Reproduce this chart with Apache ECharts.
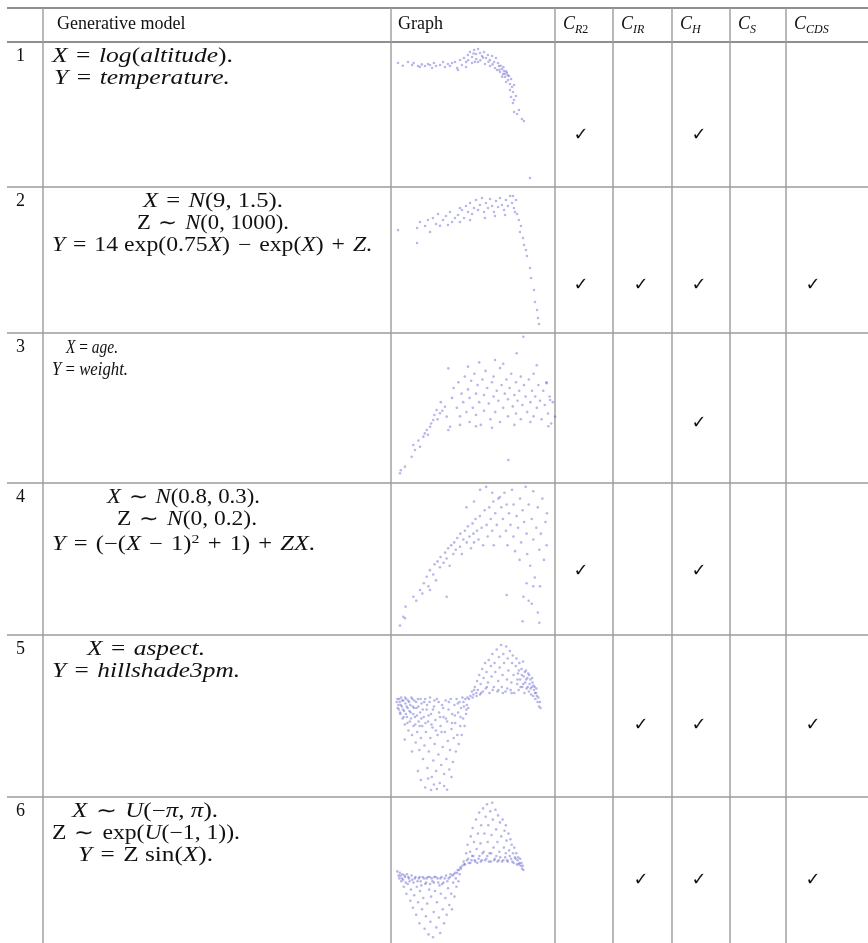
<!DOCTYPE html>
<html><head><meta charset="utf-8">
<script src="https://cdn.jsdelivr.net/npm/echarts@6/dist/echarts.min.js"></script>
<style>html,body{margin:0;padding:0;background:#fff}#c{width:868px;height:943px}</style>
</head><body><div id="c"></div>
<script>
// ---------- data (relative units 0..100 inside each plot) ----------
const graph1 = [[1.5,86],[5,84],[8.8,86.8],[11.8,84.6],[13,86],[16.2,83.8],[17.6,83.1],[19,85],[21.3,83.8],[23.5,85.3],[25,84.6],[26.5,82.4],[27.9,86],[29.4,83.8],[32.4,84.6],[34.6,86.8],[36,83.1],[38.2,85.3],[39.7,83.8],[41.2,86],[43.4,86.8],[44.9,82.4],[45.6,80.9],[47.1,88.2],[48.5,84.6],[50,89.7],[51.5,86.8],[51.5,83.1],[52.9,91.9],[53,88],[54.4,94.1],[55.9,90.4],[55.9,86],[57,93],[57.4,95.6],[58,87],[58.8,92.6],[59,89],[60.3,96.3],[60.3,86.8],[61.8,93.4],[62,88],[63.2,91.2],[64,90],[64.7,94.1],[65.4,85.3],[66.2,89.7],[67.6,91.9],[68,87],[69.1,88.2],[69.1,83.8],[70.6,91.2],[71,85],[72.1,86.8],[72.8,82.4],[73.5,89.7],[74.3,80.9],[75,86],[75.7,83.8],[76,81],[76.5,79.4],[77,84],[77.9,81.6],[78,76],[78.7,77.9],[79,83],[79.4,80.1],[80,78],[80.1,75.7],[81,80],[81.6,78.7],[82,77],[82.4,73.5],[80.9,72.1],[83.1,76.5],[83.8,70.6],[84.6,74.3],[85.3,68.4],[83.8,66.2],[86.8,69.9],[86,64.7],[84.6,61],[86.8,58.8],[88.2,61.8],[86,56.6],[86.8,50],[89,48.5],[90.4,51.5],[92.6,44.9],[94.1,43.4],[98.5,1.5]];
const graph2 = [[1.4,72],[14.4,62.5],[14.4,73.5],[16.4,77.9],[19.9,75],[21.9,79.4],[23.3,70.6],[25.3,80.9],[27.4,76.5],[28.8,83.8],[30.1,75.1],[32.2,79.4],[34.2,82.4],[35.6,75.7],[37,85.3],[38.4,77.9],[40.4,80.9],[42.5,83.1],[43.8,77.9],[43.8,88.2],[45.2,86.8],[46.6,80.9],[47.9,89.7],[49.3,85.3],[50.7,91.9],[50.7,79.4],[52.1,83.8],[53.4,88.2],[54.8,94.1],[56.2,86.8],[57.5,90.4],[58.9,95.6],[60.3,85.3],[60.9,80.9],[61.6,91.9],[63,88.2],[64.4,94.9],[65.8,89.7],[67.1,85.3],[67.8,82.4],[68.5,93.4],[69.9,89],[71.2,95.6],[72.6,90.4],[74,86.8],[74.7,83.1],[75.3,94.1],[76.7,89.7],[78.1,97.1],[79.5,91.9],[80.1,97.1],[80.8,88.2],[81.5,85.3],[82.2,94.1],[82.9,83.8],[84.2,79.4],[85.6,75],[84.9,70.6],[87,66.2],[87.7,61],[89,57.4],[89.7,52.9],[91.8,44.1],[92.5,36.8],[94.5,27.9],[95.2,19.1],[96.6,13.2],[97.3,7.4],[97.9,2.9]];
const graph3 = [[2.5,1.9],[3,4],[5.6,6.6],[9.8,13.6],[11.9,18.3],[15,20.6],[10.8,21.8],[14,25],[17.1,27.7],[18,30],[20,29],[19.2,32.4],[21.3,34.7],[22,37],[23.3,39.4],[24,43],[25.4,46.5],[26,40],[27.5,44.2],[29,46],[28,52],[30.6,48.8],[31.7,41.8],[33.8,34.7],[32.7,32.4],[35,55],[36,62],[38,48],[39,66],[40,42],[40,36],[41,58],[42,52],[43,70],[44,45],[45,61],[45,77],[46,38],[46,55],[47,67],[48,48],[49,72],[50,58],[50,43],[50,35],[51,64],[52,52],[52,80],[53,36],[54,68],[55,57],[55,46],[56,74],[57,62],[58,51],[59,40],[60,66],[60,34],[61,56],[61,70],[61.9,81.7],[62,45],[63,60],[64,53],[65,76],[65,38],[66,64],[67,48],[67,79],[68,58],[69,68],[70,42],[70,54],[70.2,11.3],[71,62],[72,72],[73,49],[74,57],[74,36],[75,44],[75,66],[75.4,86.4],[76,53],[77,60],[78,70],[78,40],[79,50],[79.6,98.1],[80,64],[81,56],[82,45],[83,68],[84,52],[84,38],[85,60],[86,42],[86,72],[87,56],[88,48],[88,78],[89,64],[90,53],[91,40],[92,60],[93,50],[94,66],[94.2,65.3],[95,44],[95.2,35],[96,56],[96.3,53.5],[97,37],[98,52],[99.4,41.8],[32.7,75.8]];
const graph4 = [[1.3,3],[3.5,9.1],[4.6,8],[5,16],[10.1,22.8],[12,20],[14.5,27.4],[16,25],[17,32],[18.9,36.5],[20,30],[21,41],[21,27.4],[23.2,38],[24,45],[25,34],[26,47],[27.6,43],[28,50],[30,46],[31,53],[32,49],[32,22.8],[33,56],[34,44],[35,58],[36.4,52],[37,60],[38,55],[39,63],[40.8,57],[41,66],[42,52],[43,62],[44,68],[45,84],[45.2,60],[46,71],[47,64],[48,56],[49,73],[49.6,66],[50,60],[50,88],[51,76],[52,68],[53,62],[53.9,78],[54,96],[55,70],[56,58],[57,82],[58,98],[58.3,72],[59,64],[60,84],[61,76],[62,68],[62,94],[62.7,88],[63,58],[64,80],[65,72],[66,90],[67,91],[67.1,64],[68,84],[69,76],[70,94],[71,68],[71.5,86],[71.5,24],[72,58],[73,80],[74,72],[75,96],[75.9,64],[76,86],[77,54],[78,78],[79,70],[80,48],[80.3,90],[81,60],[82,82],[82.5,22.8],[83,74],[84,98],[84.6,66],[84.6,32],[85,52],[86,86],[86,20],[87,44],[88,76],[88,18],[89,62],[89,95],[89,30],[90,36],[91,70],[92,84],[92,12],[93,55],[93,5],[93.4,30],[94,66],[95,90],[96,48],[97,74],[97.8,58],[98,80],[82,6]];
const graph5 = [[1,62],[1.6,58],[2,55],[2.5,60],[3,52],[3.5,63],[4,57],[4.5,49],[5,61],[5.5,54],[6,45],[6,35],[6.5,59],[7,62],[7.5,50],[8,56],[8.5,41],[9,60],[9.5,47],[10,53],[10.5,63],[11,38],[11,27],[11.5,57],[12,44],[12.5,61],[13,50],[13.5,33],[14,56],[14.5,40],[15,62],[15,14],[15.5,47],[16,28],[16.5,53],[17,36],[17,8],[17.5,59],[18,44],[18.5,22],[19,50],[19.5,31],[20,62],[20,3],[20.5,40],[21,55],[21.5,16],[22,47],[22,9],[22.5,27],[23,60],[23.5,36],[24,52],[24,1.3],[24.5,10],[25,43],[25.5,21],[26,57],[26,5],[26.5,32],[27,48],[27.5,14],[28,62],[28,2],[28.5,38],[29,25],[29.5,53],[30,6],[30.5,44],[31,18],[31.5,58],[32,30],[32.5,50],[33,12],[33,4],[33.5,40],[34,61],[34.5,22],[35,47],[35,1.5],[35.5,34],[36,55],[36.5,15],[37,28],[37.5,62],[38,42],[38,10],[38.5,52],[39,20],[39.5,36],[40,58],[40.5,46],[41,27],[41.5,62],[42,38],[42.5,53],[43,32],[43.5,60],[44,44],[44.5,56],[45,38],[45.5,63],[46,49],[46.5,57],[47,44],[47.5,62],[48,52],[48.5,58],[49,63],[49.5,56],[50,62],[51,64],[52,67],[53,65],[54,70],[55,66],[55.5,74],[56,68],[57,78],[57.5,65],[58,72],[59,82],[59.5,67],[60,76],[61,86],[61.5,69],[62,80],[63,73],[63.5,88],[64,66],[65,84],[65.5,77],[66,92],[67,70],[67.5,86],[68,80],[69,95],[69.5,67],[70,74],[70.5,90],[71,83],[72,98],[72.5,70],[73,78],[73.5,92],[74,86],[75,67],[75.5,97],[76,75],[76.5,89],[77,81],[78,94],[78.5,68],[79,73],[79.5,86],[80,91],[80.5,78],[81,66],[82,84],[82.5,89],[83,72],[83.5,79],[84,68],[84.5,86],[85,75],[86,82],[86.5,70],[87,87],[87.5,77],[88,66],[88.5,73],[89,81],[89.5,69],[90,76],[90.5,79],[91,67],[91.5,72],[92,75],[92.5,65],[93,70],[93.5,73],[94,64],[94.5,68],[95,70],[95.5,62],[96,66],[96.5,64],[97,60],[97.5,63],[98,57],[98.6,60],[99,56],
 [0.5,60],[1.2,56],[2.2,62],[2.8,53],[3.3,58],[4.2,61],[4.8,55],[5.2,50],[6.2,63],[6.8,52],[7.3,57],[7.8,46],[8.3,61],[9.2,54],[9.8,58],[10.3,49],[11.2,62],[11.8,52],[12.3,56],[13.2,45],[13.8,60],[14.3,51],[15.3,57],[16.2,44],[16.8,62],[17.3,49],[18.3,55],[19.3,60],[20.2,46],[21.3,58],[22.3,51],[23.3,63],[24.3,45],[25.3,55],[26.3,61],[27.3,41],[29.2,60],[30.2,50],[31.2,40],[32.3,56],[34.2,49],[36.2,60],[38.3,46],[40.3,51],[42.3,59],[44.2,50],[46.2,60],[48.2,55],
 [83.2,75],[84.2,81],[85.3,70],[86.2,78],[87.2,72],[88.2,80],[89.2,75],[90.2,70],[91.2,78],[92.2,69],[93.2,76],[94.2,71],[95.2,66],[96.2,69],[70.2,68],[73.2,66],[76.2,69],[79.2,66],[62.3,70],[66.2,68],[58.3,66],[55.2,64],[52.5,63],[53.5,68]];
const graph6 = [[1,49],[2,46],[3,48],[4,42],[5,47],[6,38],[7,45],[8,33],[8.5,47],[9,40],[10,44],[11,28],[11.5,36],[12,46],[13,23],[13.5,41],[14,32],[15,45],[15.5,18],[16,38],[17,27],[17.5,44],[18,12],[18.5,35],[19,42],[20,22],[20.5,45],[21,30],[22,8],[22.5,40],[23,17],[23.5,44],[24,26],[25,4],[25.5,36],[26,45],[26.5,13],[27,31],[28,42],[28.5,2],[29,20],[29.5,45],[30,35],[31,9],[31.5,27],[32,44],[33,16],[33.5,39],[34,5],[34.5,33],[35,45],[36,22],[36.5,41],[37,12],[38,30],[38.5,46],[39,18],[40,37],[40.5,44],[41,25],[42,47],[42.5,33],[43,22],[44,41],[44.5,47],[45,31],[46,44],[46.5,38],[47,48],[48,42],[48.5,50],[49,47],[50,51],[51,53],[52,56],[53,54],[54,62],[54.5,57],[55,68],[56,55],[57,63],[57.5,74],[58,57],[59,80],[59.5,60],[60,70],[61,56],[61.5,86],[62,65],[63,76],[63.5,58],[64,91],[65,69],[65.5,82],[66,57],[67,94],[67.5,63],[68,76],[69,88],[69.5,58],[70,97],[70.5,70],[71,82],[72,62],[72.5,92],[73,56],[73.5,75],[74,98],[74.5,86],[75,66],[76,58],[76.5,93],[77,79],[78,70],[78.5,89],[79,57],[79.5,63],[80,84],[81,74],[81.5,56],[82,86],[83,66],[83.5,78],[84,59],[84.5,82],[85,71],[86,56],[86.5,76],[87,64],[88,72],[88.5,58],[89,68],[90,62],[90.5,55],[91,66],[92,58],[92.5,62],[93,54],[94,59],[95,55],[96,53],[97,51],[98,50],
 [2.5,44],[3.5,46],[4.5,44],[5.5,43],[6.5,46],[7.5,41],[9.5,45],[10.5,42],[12.5,43],[14.5,44],[16.5,42],[18.2,45],[19.5,39],[21.5,44],[23.2,41],[24.5,45],[26.2,40],[27.5,44],[29.2,41],[30.5,45],[32.5,41],[34.2,44],[35.5,40],[37.5,44],[39.5,42],[41.5,45],[43.5,46],[45.5,48],[47.5,50],[49.5,52],
 [52.5,54],[55.5,58],[57.2,55],[58.5,60],[60.5,57],[62.5,55],[64.2,60],[65.2,56],[66.5,62],[68.5,57],[70.2,60],[71.5,56],[73.2,62],[75.5,57],[77.2,60],[78.2,56],[80.2,59],[82.5,57],[84.5,62],[85.5,57],[87.5,60],[89.5,56],[91.5,59],[93.5,57],[94.5,54],[95.5,58],[96.5,55],[97.5,53]];
const graphs = [graph1, graph2, graph3, graph4, graph5, graph6];

const rowNumbers = ['1','2','3','4','5','6'];
const headerText = ['Generative model', 'Graph'];
const criteria = [['C','R','2'],['C','IR',''],['C','H',''],['C','S',''],['C','CDS','']];
// checks per row: C_R2, C_IR, C_H, C_S, C_CDS
const checks = [[1,0,1,0,0],[1,1,1,0,1],[0,0,1,0,0],[1,0,1,0,0],[0,1,1,0,1],[0,1,1,0,1]];
const SP = '\u2004';
const formulas = [
  ['{i|X}'+SP+'='+SP+'{i|log}({i|altitude}).', '{i|Y}'+SP+'='+SP+'{i|temperature.}'],
  ['{i|X}'+SP+'='+SP+'{i|N}(9, 1.5).', 'Z'+SP+'\u223c'+SP+'{i|N}(0, 1000).', '{i|Y}'+SP+'='+SP+'14 exp(0.75{i|X})'+SP+'\u2212'+SP+'exp({i|X})'+SP+'+'+SP+'{i|Z}.'],
  ['{i|X} = {i|age.}', '{i|Y} = {i|weight.}'],
  ['{i|X}'+SP+'\u223c'+SP+'{i|N}(0.8, 0.3).', 'Z'+SP+'\u223c'+SP+'{i|N}(0, 0.2).', '{i|Y}'+SP+'='+SP+'(\u2212({i|X}'+SP+'\u2212'+SP+'1){sup|2}'+SP+'+'+SP+'1)'+SP+'+'+SP+'{i|ZX}.'],
  ['{i|X}'+SP+'='+SP+'{i|aspect.}', '{i|Y}'+SP+'='+SP+'{i|hillshade3pm.}'],
  ['{i|X}'+SP+'\u223c'+SP+'{i|U}(\u2212{i|\u03c0}, {i|\u03c0}).', 'Z'+SP+'\u223c'+SP+'exp({i|U}(\u22121, 1)).', '{i|Y}'+SP+'='+SP+'Z sin({i|X}).']
];

// ---------- layout ----------
const W = 868, H = 943;
const rowLines = [42, 187, 333, 483, 635, 797];
const colLines = [43, 391, 555, 613, 672, 730, 786];
const plotBoxes = [[396,44,136,136],[396,192,146,136],[396,334,160,142],[398,484,152,146],[396,642,146,150],[396,800,130,140]];
// left / right extents of each formula line
const formulaSpan = [
  [[52,233],[54,230]],
  [[143,283],[137,289],[52,372]],
  [[66,118],[52,128]],
  [[107,260],[117,257],[52,315]],
  [[87,205],[52,240]],
  [[72,218],[52,240],[78,213]]
];
const formulaSize = [20, 20, 18, 20, 20, 20];
const checkY = [135, 285, 423, 571, 725, 880];
const checkX = [581, 641, 699, 757, 813];
const lineGap = 22;
const FS = 18;
const SERIF = '"Liberation Serif", "Times New Roman", serif';
const FONT_R = FS + 'px ' + SERIF;
const FONT_I = 'italic ' + FS + 'px ' + SERIF;
const ctx = document.createElement('canvas').getContext('2d');
function fontsFor(size) {
  return {r: size + 'px ' + SERIF, i: 'italic ' + size + 'px ' + SERIF, sup: Math.round(size*0.65) + 'px ' + SERIF};
}
function measure(str, f) {
  let w = 0, last = 0, m;
  const re = /\{(\w+)\|([^}]*)\}/g;
  while ((m = re.exec(str))) {
    ctx.font = f.r; w += ctx.measureText(str.slice(last, m.index)).width;
    ctx.font = f[m[1]]; w += ctx.measureText(m[2]).width;
    last = re.lastIndex;
  }
  ctx.font = f.r; w += ctx.measureText(str.slice(last)).width;
  return w;
}

const g = [];
const gray = '#9b9b9b';
g.push({type:'line', shape:{x1:7,y1:8,x2:W,y2:8}, style:{stroke:'#8f8f8f', lineWidth:2}});
rowLines.forEach((y,k) => g.push({type:'line', shape:{x1:7,y1:y,x2:W,y2:y}, style:{stroke: k===0?'#8f8f8f':gray, lineWidth: k===0?2:1.4}}));
colLines.forEach(x => g.push({type:'line', shape:{x1:x,y1:8,x2:x,y2:H}, style:{stroke:gray, lineWidth:1.4}}));

g.push({type:'text', x:57, y:24, style:{text:headerText[0], font:FONT_R, fill:'#111', verticalAlign:'middle'}});
g.push({type:'text', x:398, y:24, style:{text:headerText[1], font:FONT_R, fill:'#111', verticalAlign:'middle'}});
criteria.forEach((c,k) => {
  const x = colLines[2+k] + 8;
  g.push({type:'text', x:x, y:24, style:{
    text: '{c|' + c[0] + '}{s|' + c[1] + '}' + (c[2] ? '{n|' + c[2] + '}' : ''),
    rich: {
      c: {font:FONT_I, fill:'#111', lineHeight:24},
      s: {font:'italic 12px ' + SERIF, fill:'#111', verticalAlign:'bottom', lineHeight:12},
      n: {font:'12px ' + SERIF, fill:'#111', verticalAlign:'bottom', lineHeight:12}
    }, verticalAlign:'middle'}});
});

rowNumbers.forEach((n,r) => {
  const top = rowLines[r];
  const f = fontsFor(formulaSize[r]);
  const rich = {
    i: {font: f.i, fill: '#111', lineHeight: 24},
    sup: {font: f.sup, fill: '#111', verticalAlign: 'top', lineHeight: 12}
  };
  g.push({type:'text', x:16, y:top+14, style:{text:n, font:FONT_R, fill:'#111', verticalAlign:'middle'}});
  formulas[r].forEach((s,l) => {
    const span = formulaSpan[r][l];
    const sx = (span[1] - span[0]) / measure(s, f);
    g.push({type:'text', x:span[0], y:top+15+l*lineGap + (r===3 && l===2 ? 3 : 0), scaleX:sx, style:{
      text:s, rich:rich, font:f.r, lineHeight:24, fill:'#111', align:'left', verticalAlign:'middle'}});
  });
  checks[r].forEach((v,k) => {
    if (v) g.push({type:'text', x:checkX[k], y:checkY[r], style:{text:'\u2713', font:'18px "DejaVu Sans"', fill:'#111', align:'center', verticalAlign:'middle'}});
  });
});

const grid = [], xAxis = [], yAxis = [], series = [];
plotBoxes.forEach((b,k) => {
  grid.push({left:b[0], top:b[1], width:b[2], height:b[3], containLabel:false});
  xAxis.push({type:'value', gridIndex:k, min:0, max:100, show:false});
  yAxis.push({type:'value', gridIndex:k, min:0, max:100, show:false});
  series.push({type:'scatter', xAxisIndex:k, yAxisIndex:k, data:graphs[k], symbolSize:2.6,
    itemStyle:{color:'rgba(75,75,200,0.5)'}, silent:true});
});

const chart = echarts.init(document.getElementById('c'), null, {renderer:'canvas'});
chart.setOption({animation:false, backgroundColor:'#fff', grid, xAxis, yAxis, series, graphic:{elements:g}});
</script></body></html>
